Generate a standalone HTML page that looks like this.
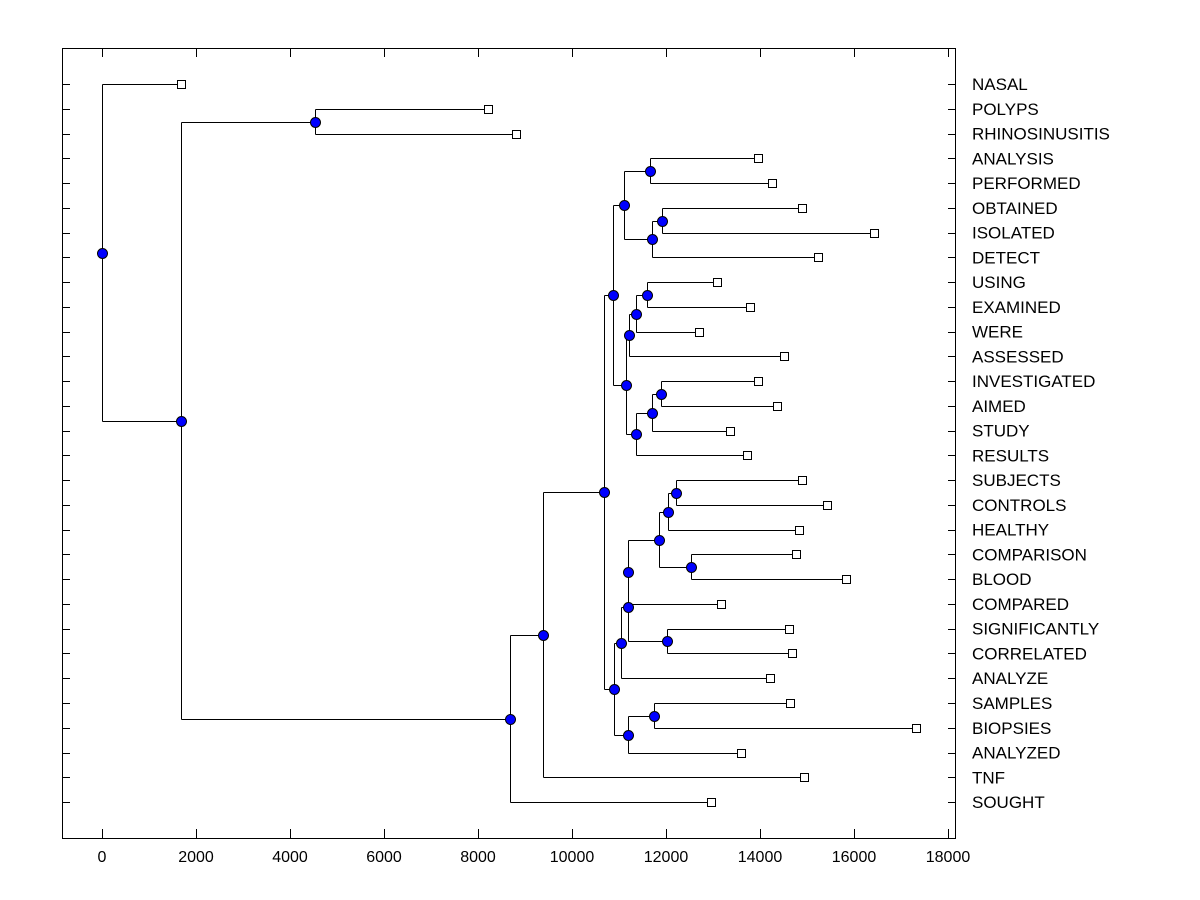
<!DOCTYPE html>
<html><head><meta charset="utf-8"><style>
html,body{margin:0;padding:0;background:#fff;}
svg{display:block;font-family:"Liberation Sans",Arial,sans-serif;}
</style></head><body>
<svg id="chart" width="1200" height="900" viewBox="0 0 1200 900">
<rect x="0" y="0" width="1200" height="900" fill="#fff"/>
<rect x="62.5" y="48.5" width="893" height="790" fill="none" stroke="#000" stroke-width="1"/>
</svg>
<script>
// Leaf labels (top to bottom) and their leaf-end values
const leafLabels = ["NASAL","POLYPS","RHINOSINUSITIS","ANALYSIS","PERFORMED","OBTAINED","ISOLATED","DETECT","USING","EXAMINED","WERE","ASSESSED","INVESTIGATED","AIMED","STUDY","RESULTS","SUBJECTS","CONTROLS","HEALTHY","COMPARISON","BLOOD","COMPARED","SIGNIFICANTLY","CORRELATED","ANALYZE","SAMPLES","BIOPSIES","ANALYZED","TNF","SOUGHT"];
const leafValues = [1683,8223,8798,13953,14251,14890,16424,15231,13080,13782,12696,14507,13953,14358,13357,13719,14890,15422,14826,14762,15827,13165,14613,14677,14209,14635,17319,13591,14933,12952];
// Internal nodes: children "L#" = leaf index, "N#" = node index
const nodeChildren = [
 ["L1","L2"],["L3","L4"],["L5","L6"],["N2","L7"],["N1","N3"],
 ["L8","L9"],["N5","L10"],["N6","L11"],["L12","L13"],["N8","L14"],
 ["N9","L15"],["N7","N10"],["N4","N11"],["L16","L17"],["N13","L18"],
 ["L19","L20"],["N14","N15"],["N16","L21"],["L22","L23"],["N17","N18"],
 ["N19","L24"],["L25","L26"],["N21","L27"],["N20","N22"],["N12","N23"],
 ["N24","L28"],["N25","L29"],["N0","N26"],["L0","N27"]
];
const nodeHeights = [4537,11652,11908,11695,11098,11588,11354,11205,11887,11695,11354,11141,10864,12206,12036,12526,11844,11184,12014,11184,11035,11737,11184,10886,10672,9373,8690,1683,0];
const xTicks = [0,2000,4000,6000,8000,10000,12000,14000,16000,18000];

const NS="http://www.w3.org/2000/svg";
const svg=document.getElementById('chart');
const xs=v=>102+v*(846/18000);
const ys=i=>84+i*24.76;
const snap=v=>Math.round(v)+0.5;
function mk(tag,attrs,parent){const e=document.createElementNS(NS,tag);for(const k in attrs)e.setAttribute(k,attrs[k]);(parent||svg).appendChild(e);return e;}

xTicks.forEach(t=>{
  const x=snap(xs(t));
  const b=mk('line',{x1:x,x2:x,y1:838,y2:829,stroke:'#000'});
  
  
  const tp=mk('line',{x1:x,x2:x,y1:49,y2:57,stroke:'#000'});
  
  
  const tx=mk('text',{x:xs(t),y:862,'text-anchor':'middle','font-size':'16'});
  tx.textContent=t;
  
  
});
leafLabels.forEach((l,i)=>{
  const y=snap(ys(i));
  const a=mk('line',{x1:62,x2:70,y1:y,y2:y,stroke:'#000'});
  
  
  const c=mk('line',{x1:948,x2:956,y1:y,y2:y,stroke:'#000'});
  
  
  const t=mk('text',{x:972,y:ys(i)+6,'font-size':'17'});
  t.textContent=l;
  
  
});

const pos={};
leafLabels.forEach((l,i)=>{pos['L'+i]={x:snap(xs(leafValues[i])),y:snap(ys(i))};});
nodeChildren.forEach((c,i)=>{
  const a=pos[c[0]],b=pos[c[1]];
  pos['N'+i]={x:snap(xs(nodeHeights[i])),y:snap((a.y+b.y)/2-0.5)};
});
const lines=mk('g',{});


nodeChildren.forEach((c,i)=>{
  const p=pos['N'+i];
  const a=pos[c[0]],b=pos[c[1]];
  const v=mk('line',{x1:p.x,x2:p.x,y1:a.y,y2:b.y,stroke:'#000','stroke-width':1},lines);
  
  
  [a,b].forEach(ch=>{
    const h=mk('line',{x1:p.x,x2:ch.x,y1:ch.y,y2:ch.y,stroke:'#000','stroke-width':1},lines);
    
    
  });
});
leafLabels.forEach((l,i)=>{
  const p=pos['L'+i];
  const s=mk('rect',{x:p.x-4,y:p.y-4,width:8,height:8,fill:'#fff',stroke:'#000'});
  
  
});
nodeChildren.forEach((c,i)=>{
  const p=pos['N'+i];
  const m=mk('circle',{cx:p.x,cy:p.y,r:5,fill:'#0000ff',stroke:'#000','stroke-width':1});
  
  
});
</script>
</body></html>
